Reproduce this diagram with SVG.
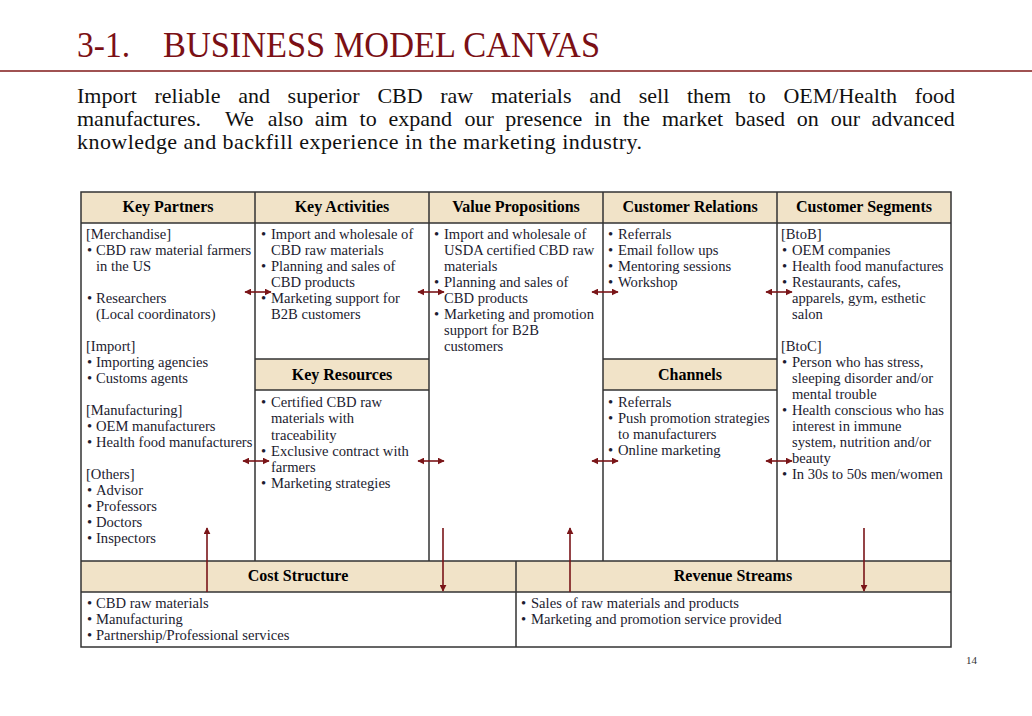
<svg xmlns="http://www.w3.org/2000/svg" width="1032" height="716" viewBox="0 0 1032 716">
<style>
.t{font-family:"Liberation Serif","Times New Roman",serif;fill:#1c1c30;font-size:14.6px}
.h{font-family:"Liberation Serif","Times New Roman",serif;fill:#000;font-size:16px;font-weight:bold;text-anchor:middle}
.p{font-family:"Liberation Serif","Times New Roman",serif;fill:#111;font-size:22px}
.ti{font-family:"Liberation Serif","Times New Roman",serif;fill:#7b1015;font-size:35px}
.hdr{fill:#f1e3c8}
.ln{stroke:#333;stroke-width:1.5;fill:none}
.ar{stroke:#7a1518;stroke-width:1.6;fill:none}
</style>
<defs>
<marker id="ah" viewBox="0 0 10 10" refX="9" refY="5" markerWidth="7" markerHeight="7" markerUnits="userSpaceOnUse" orient="auto-start-reverse">
<path d="M0,0 L10,5 L0,10 z" fill="#7a1518"/>
</marker>
</defs>
<rect width="1032" height="716" fill="#fff"/>
<g id="title">
<text class="ti" x="77" y="57" textLength="53" lengthAdjust="spacingAndGlyphs">3-1.</text>
<text class="ti" x="163" y="57" textLength="437" lengthAdjust="spacingAndGlyphs">BUSINESS MODEL CANVAS</text>
<line x1="0" y1="71" x2="1032" y2="71" stroke="#a05252" stroke-width="2"/>
</g>
<g id="intro">
<text class="p" y="103"><tspan x="77">Import</tspan><tspan x="154.5">reliable</tspan><tspan x="238.2">and</tspan><tspan x="287.6">superior</tspan><tspan x="377.4">CBD</tspan><tspan x="440.2">raw</tspan><tspan x="490.9">materials</tspan><tspan x="589.2">and</tspan><tspan x="638.7">sell</tspan><tspan x="687">them</tspan><tspan x="748.6">to</tspan><tspan x="783.4">OEM/Health</tspan><tspan x="914.7">food</tspan></text>
<text class="p" y="126"><tspan x="77">manufactures.</tspan><tspan x="224.9">We</tspan><tspan x="267.8">also</tspan><tspan x="314.7">aim</tspan><tspan x="359.6">to</tspan><tspan x="388.5">expand</tspan><tspan x="464.4">our</tspan><tspan x="505.3">presence</tspan><tspan x="594.2">in</tspan><tspan x="623.1">the</tspan><tspan x="662">market</tspan><tspan x="734.9">based</tspan><tspan x="796.8">on</tspan><tspan x="830.7">our</tspan><tspan x="871.6">advanced</tspan></text>
<text class="p" x="77" y="149" textLength="565" lengthAdjust="spacing">knowledge and backfill experience in the marketing industry.</text>
</g>
<g id="grid">
<rect class="hdr" x="81" y="192" width="870" height="31"/>
<rect class="hdr" x="255" y="359" width="174" height="31"/>
<rect class="hdr" x="603" y="359" width="174" height="31"/>
<rect class="hdr" x="81" y="561" width="870" height="31"/>
<rect class="ln" x="81" y="192" width="870" height="455"/>
<path class="ln" d="M255,192V561M429,192V561M603,192V561M777,192V561M81,223H951M255,359H429M255,390H429M603,359H777M603,390H777M81,561H951M81,592H951M516,561V647"/>
</g>
<g id="key-partners">
<text class="h" x="168" y="212">Key Partners</text>
<text class="t"><tspan x="86" y="239">[Merchandise]</tspan><tspan x="87" y="255">•</tspan><tspan x="96" y="255">CBD raw material farmers</tspan><tspan x="96" y="271">in the US</tspan><tspan x="87" y="303">•</tspan><tspan x="96" y="303">Researchers</tspan><tspan x="96" y="319">(Local coordinators)</tspan><tspan x="86" y="351">[Import]</tspan><tspan x="87" y="367">•</tspan><tspan x="96" y="367">Importing agencies</tspan><tspan x="87" y="383">•</tspan><tspan x="96" y="383">Customs agents</tspan><tspan x="86" y="415">[Manufacturing]</tspan><tspan x="87" y="431">•</tspan><tspan x="96" y="431">OEM manufacturers</tspan><tspan x="87" y="447">•</tspan><tspan x="96" y="447">Health food manufacturers</tspan><tspan x="86" y="479">[Others]</tspan><tspan x="87" y="495">•</tspan><tspan x="96" y="495">Advisor</tspan><tspan x="87" y="511">•</tspan><tspan x="96" y="511">Professors</tspan><tspan x="87" y="527">•</tspan><tspan x="96" y="527">Doctors</tspan><tspan x="87" y="543">•</tspan><tspan x="96" y="543">Inspectors</tspan></text>
</g>
<g id="key-activities">
<text class="h" x="342" y="212">Key Activities</text>
<text class="t"><tspan x="261" y="239">•</tspan><tspan x="271" y="239">Import and wholesale of</tspan><tspan x="271" y="255">CBD raw materials</tspan><tspan x="261" y="271">•</tspan><tspan x="271" y="271">Planning and sales of</tspan><tspan x="271" y="287">CBD products</tspan><tspan x="261" y="303">•</tspan><tspan x="271" y="303">Marketing support for</tspan><tspan x="271" y="319">B2B customers</tspan></text>
</g>
<g id="key-resources">
<text class="h" x="342" y="380">Key Resources</text>
<text class="t"><tspan x="261" y="407">•</tspan><tspan x="271" y="407">Certified CBD raw</tspan><tspan x="271" y="423">materials with</tspan><tspan x="271" y="439.5">traceability</tspan><tspan x="261" y="455.5">•</tspan><tspan x="271" y="455.5">Exclusive contract with</tspan><tspan x="271" y="471.5">farmers</tspan><tspan x="261" y="487.5">•</tspan><tspan x="271" y="487.5">Marketing strategies</tspan></text>
</g>
<g id="value-propositions">
<text class="h" x="516" y="212">Value Propositions</text>
<text class="t"><tspan x="434" y="239">•</tspan><tspan x="444" y="239">Import and wholesale of</tspan><tspan x="444" y="255">USDA certified CBD raw</tspan><tspan x="444" y="271">materials</tspan><tspan x="434" y="287">•</tspan><tspan x="444" y="287">Planning and sales of</tspan><tspan x="444" y="303">CBD products</tspan><tspan x="434" y="319">•</tspan><tspan x="444" y="319">Marketing and promotion</tspan><tspan x="444" y="335">support for B2B</tspan><tspan x="444" y="351">customers</tspan></text>
</g>
<g id="customer-relations">
<text class="h" x="690" y="212">Customer Relations</text>
<text class="t"><tspan x="608" y="239">•</tspan><tspan x="618" y="239">Referrals</tspan><tspan x="608" y="255">•</tspan><tspan x="618" y="255">Email follow ups</tspan><tspan x="608" y="271">•</tspan><tspan x="618" y="271">Mentoring sessions</tspan><tspan x="608" y="287">•</tspan><tspan x="618" y="287">Workshop</tspan></text>
</g>
<g id="channels">
<text class="h" x="690" y="380">Channels</text>
<text class="t"><tspan x="608" y="407">•</tspan><tspan x="618" y="407">Referrals</tspan><tspan x="608" y="423">•</tspan><tspan x="618" y="423">Push promotion strategies</tspan><tspan x="618" y="439">to manufacturers</tspan><tspan x="608" y="455">•</tspan><tspan x="618" y="455">Online marketing</tspan></text>
</g>
<g id="customer-segments">
<text class="h" x="864" y="212">Customer Segments</text>
<text class="t"><tspan x="781" y="239">[BtoB]</tspan><tspan x="782" y="255">•</tspan><tspan x="792" y="255">OEM companies</tspan><tspan x="782" y="271">•</tspan><tspan x="792" y="271">Health food manufactures</tspan><tspan x="782" y="287">•</tspan><tspan x="792" y="287">Restaurants, cafes,</tspan><tspan x="792" y="303">apparels, gym, esthetic</tspan><tspan x="792" y="319">salon</tspan><tspan x="781" y="351">[BtoC]</tspan><tspan x="782" y="367">•</tspan><tspan x="792" y="367">Person who has stress,</tspan><tspan x="792" y="383">sleeping disorder and/or</tspan><tspan x="792" y="399">mental trouble</tspan><tspan x="782" y="415">•</tspan><tspan x="792" y="415">Health conscious who has</tspan><tspan x="792" y="431">interest in immune</tspan><tspan x="792" y="447">system, nutrition and/or</tspan><tspan x="792" y="463">beauty</tspan><tspan x="782" y="479">•</tspan><tspan x="792" y="479">In 30s to 50s men/women</tspan></text>
</g>
<g id="cost-structure">
<text class="h" x="298" y="581">Cost Structure</text>
<text class="t"><tspan x="87" y="607.5">•</tspan><tspan x="96" y="607.5">CBD raw materials</tspan><tspan x="87" y="623.5">•</tspan><tspan x="96" y="623.5">Manufacturing</tspan><tspan x="87" y="639.5">•</tspan><tspan x="96" y="639.5">Partnership/Professional services</tspan></text>
</g>
<g id="revenue-streams">
<text class="h" x="733" y="581">Revenue Streams</text>
<text class="t"><tspan x="521" y="607.5">•</tspan><tspan x="531" y="607.5">Sales of raw materials and products</tspan><tspan x="521" y="623.5">•</tspan><tspan x="531" y="623.5">Marketing and promotion service provided</tspan></text>
</g>
<g id="connectors">
<line class="ar" x1="245" y1="292" x2="271" y2="292" marker-start="url(#ah)" marker-end="url(#ah)"/>
<line class="ar" x1="418" y1="292" x2="444" y2="292" marker-start="url(#ah)" marker-end="url(#ah)"/>
<line class="ar" x1="592" y1="292" x2="618" y2="292" marker-start="url(#ah)" marker-end="url(#ah)"/>
<line class="ar" x1="766" y1="292" x2="792" y2="292" marker-start="url(#ah)" marker-end="url(#ah)"/>
<line class="ar" x1="243" y1="461" x2="269" y2="461" marker-start="url(#ah)" marker-end="url(#ah)"/>
<line class="ar" x1="418" y1="461" x2="444" y2="461" marker-start="url(#ah)" marker-end="url(#ah)"/>
<line class="ar" x1="592" y1="461" x2="618" y2="461" marker-start="url(#ah)" marker-end="url(#ah)"/>
<line class="ar" x1="766" y1="461" x2="792" y2="461" marker-start="url(#ah)" marker-end="url(#ah)"/>
<line class="ar" x1="207" y1="592" x2="207" y2="528" marker-end="url(#ah)"/>
<line class="ar" x1="443" y1="528" x2="443" y2="591" marker-end="url(#ah)"/>
<line class="ar" x1="570" y1="592" x2="570" y2="528" marker-end="url(#ah)"/>
<line class="ar" x1="864" y1="528" x2="864" y2="591" marker-end="url(#ah)"/>
</g>
<text x="977" y="664" font-family="Liberation Serif,serif" font-size="11" fill="#333" text-anchor="end">14</text>
</svg>
